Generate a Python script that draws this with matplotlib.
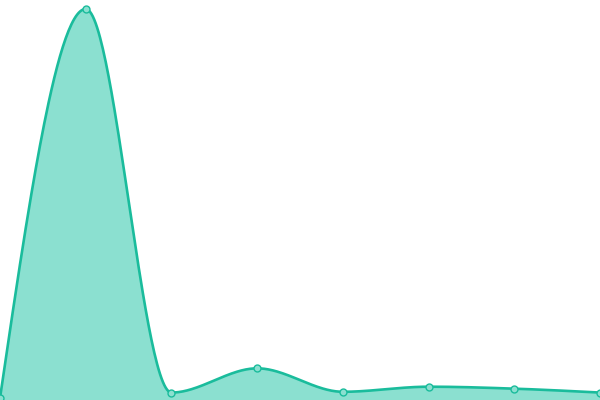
import numpy as np
import matplotlib
matplotlib.use("Agg")
import matplotlib.pyplot as plt

categories = [0, 1, 2, 3, 4, 5, 6, 7]
values = [0.5, 100, 1.9, 8.1, 2.1, 3.4, 2.9, 1.9]

LINE = "#1abc9c"
FILL = "#8be0d0"


def monotone_curve(x, y, n=60):
    x = np.asarray(x, float)
    y = np.asarray(y, float)
    m = len(x)
    h = np.diff(x)
    s = np.diff(y) / h
    t = np.zeros(m)
    for i in range(1, m - 1):
        s0, s1 = s[i - 1], s[i]
        p = (s0 * h[i] + s1 * h[i - 1]) / (h[i - 1] + h[i])
        t[i] = (np.sign(s0) + np.sign(s1)) * min(abs(s0), abs(s1), 0.5 * abs(p))
    t[0] = (3 * s[0] - t[1]) / 2
    t[-1] = (3 * s[-1] - t[-2]) / 2
    xs, ys = [], []
    for i in range(m - 1):
        u = np.linspace(0, 1, n, endpoint=(i == m - 2))
        h00 = 2 * u**3 - 3 * u**2 + 1
        h10 = u**3 - 2 * u**2 + u
        h01 = -2 * u**3 + 3 * u**2
        h11 = u**3 - u**2
        xs.append(x[i] + u * h[i])
        ys.append(h00 * y[i] + h10 * h[i] * t[i] + h01 * y[i + 1] + h11 * h[i] * t[i + 1])
    return np.concatenate(xs), np.concatenate(ys)


fig = plt.figure(figsize=(6, 4), dpi=100)
ax = fig.add_axes([0, 0, 1, 1])
cx, cy = monotone_curve(categories, values)
ax.fill_between(cx, 0, cy, color=FILL, linewidth=0)
ax.plot(cx, cy, color=LINE, linewidth=1.9, solid_capstyle="round")
ax.plot(categories, values, linestyle="none", marker="o", markersize=5,
        markerfacecolor=FILL, markeredgecolor=LINE, markeredgewidth=1)
ax.set_xlim(0, 7)
ax.set_ylim(0, 102.3)
ax.axis("off")
fig.savefig("out.png", dpi=100)
